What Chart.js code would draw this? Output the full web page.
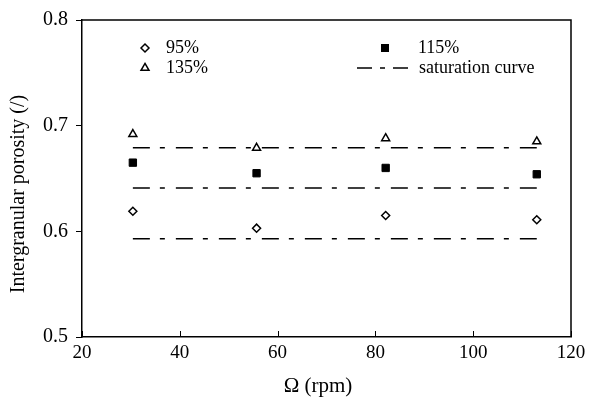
<!DOCTYPE html>
<html>
<head>
<meta charset="utf-8">
<script src="https://cdn.jsdelivr.net/npm/chart.js@4.4.0/dist/chart.umd.min.js"></script>
<style>
  html, body { margin: 0; padding: 0; background: #fff; }
  canvas { display: block; }
</style>
</head>
<body>
<canvas id="porosityChart" width="604" height="401"></canvas>
<script>
// values
const omega = [30.4, 55.7, 82.1, 113];
const p95 = [0.619, 0.603, 0.615, 0.611];
const p115 = [0.665, 0.655, 0.660, 0.654];
const p135 = [0.692, 0.679, 0.688, 0.685];
const satLevels = [0.679, 0.641, 0.593];
const satRange = [30.4, 113];
const xTicks = [20, 40, 60, 80, 100, 120];
const yTicks = [0.5, 0.6, 0.7, 0.8];

const serif = "'Liberation Serif', 'Times New Roman', serif";
const satDash = [17, 10, 5, 11];

function pts(ys) {
  return omega.map((x, i) => ({ x: x, y: ys[i] }));
}

const datasets = [
  { label: '95%', data: pts(p95), pointStyle: 'rectRot', pointRadius: 4,
    backgroundColor: '#fff', borderColor: '#000', borderWidth: 1.5 },
  { label: '115%', data: pts(p115), pointStyle: 'rect', pointRadius: 5.2,
    backgroundColor: '#000', borderColor: '#000', borderWidth: 1 },
  { label: '135%', data: pts(p135), pointStyle: 'triangle', pointRadius: 4.6,
    backgroundColor: '#fff', borderColor: '#000', borderWidth: 1.5 }
];
satLevels.forEach(v => {
  datasets.push({
    label: 'saturation curve', type: 'line',
    data: satRange.map(x => ({ x: x, y: v })),
    borderColor: '#000', borderWidth: 1.5, borderDash: satDash,
    pointRadius: 0, fill: false
  });
});

// frame on top/right, inner x ticks, axis titles and the legend box
const extras = {
  id: 'extras',
  afterDraw(chart) {
    const ctx = chart.ctx;
    const a = chart.chartArea;
    const xs = chart.scales.x;
    ctx.save();
    ctx.strokeStyle = '#000';
    ctx.lineWidth = 1.5;
    ctx.beginPath();
    ctx.moveTo(a.left, a.top);
    ctx.lineTo(a.right, a.top);
    ctx.lineTo(a.right, a.bottom);
    ctx.stroke();
    ctx.lineWidth = 1;
    xTicks.forEach(t => {
      const px = Math.round(xs.getPixelForValue(t)) + 0.5;
      ctx.beginPath();
      ctx.moveTo(px, a.bottom);
      ctx.lineTo(px, a.bottom - 6);
      ctx.stroke();
    });

    // axis titles
    ctx.fillStyle = '#000';
    ctx.textAlign = 'center';
    ctx.textBaseline = 'middle';
    ctx.font = '21px ' + serif;
    ctx.fillText('Ω (rpm)', 318, 386);
    ctx.save();
    ctx.translate(19, 194);
    ctx.rotate(-Math.PI / 2);
    ctx.font = '20px ' + serif;
    ctx.fillText('Intergranular porosity (/)', 0, 0);
    ctx.restore();

    // legend
    ctx.font = '18px ' + serif;
    ctx.textAlign = 'left';
    const h = Chart.helpers;
    ctx.lineWidth = 1.5;
    ctx.fillStyle = '#fff';
    h.drawPoint(ctx, { pointStyle: 'rectRot', radius: 4, borderWidth: 1.5 }, 145, 48);
    ctx.fillStyle = '#fff';
    h.drawPoint(ctx, { pointStyle: 'triangle', radius: 4.6, borderWidth: 1.5 }, 145, 68);

    ctx.fillStyle = '#000';
    ctx.fillText('95%', 166, 48);
    ctx.fillText('135%', 166, 68);
    ctx.fillRect(381, 44, 8, 8);
    ctx.fillText('115%', 418, 48);

    ctx.beginPath();
    ctx.setLineDash([15, 8, 5, 8]);
    ctx.moveTo(357, 68);
    ctx.lineTo(414, 68);
    ctx.stroke();
    ctx.setLineDash([]);
    ctx.fillText('saturation curve', 419, 68);
    ctx.restore();
  }
};

new Chart(document.getElementById('porosityChart'), {
  type: 'scatter',
  data: { datasets: datasets },
  options: {
    responsive: false,
    animation: false,
    layout: { padding: { top: 18, right: 33, left: 0, bottom: 0 } },
    plugins: { legend: { display: false }, tooltip: { enabled: false } },
    scales: {
      x: {
        type: 'linear', min: 20, max: 120,
        afterBuildTicks: s => { s.ticks = xTicks.map(v => ({ value: v })); },
        afterFit: s => { s.height = 64; },
        grid: { display: false, drawTicks: false },
        border: { display: true, color: '#000', width: 1.5 },
        ticks: { color: '#000', padding: 5, font: { family: serif, size: 19 } },
        title: { display: false }
      },
      y: {
        type: 'linear', min: 0.5, max: 0.8,
        afterBuildTicks: s => { s.ticks = yTicks.map(v => ({ value: v })); },
        afterFit: s => { s.width = 82; },
        grid: { display: true, drawOnChartArea: false, drawTicks: true,
                tickLength: 6, color: '#000', lineWidth: 1 },
        border: { display: true, color: '#000', width: 1.5 },
        ticks: { color: '#000', padding: 8, font: { family: serif, size: 20 },
                 callback: v => v.toFixed(1) },
        title: { display: false }
      }
    }
  },
  plugins: [extras]
});
</script>
</body>
</html>
